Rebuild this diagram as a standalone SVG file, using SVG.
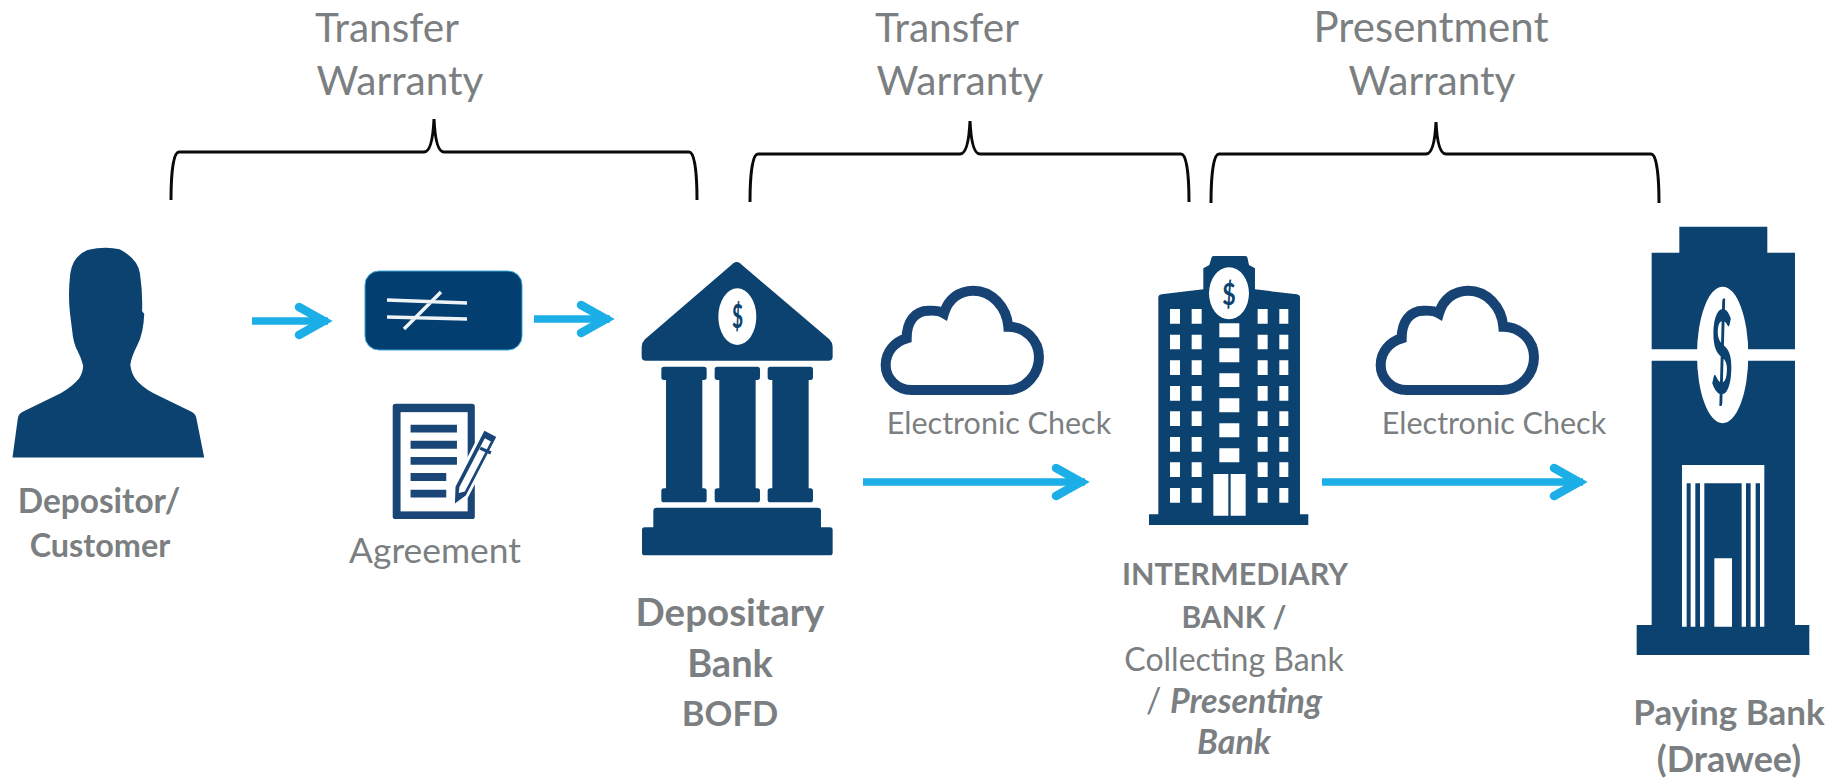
<svg xmlns="http://www.w3.org/2000/svg" width="1834" height="778" viewBox="0 0 1834 778">
<style>
text{font-family:Lato,"Liberation Sans",sans-serif;fill:#7b7f82;text-anchor:middle}
.w{font-size:40.5px}
.e{font-size:30.5px}
.b{font-weight:700}
.d{fill:#0b4270}
.f{fill:#fff}
.brace{fill:none;stroke:#0a0a0a;stroke-width:3}
.conn{fill:none;stroke:#1caee6;stroke-width:7.5}
.cloud{fill:none;stroke:#164374;stroke-width:30}
.dollar{fill:#0b4270;font-weight:700}
</style>
<defs>
<marker id="head" markerUnits="userSpaceOnUse" markerWidth="40" markerHeight="44" refX="34" refY="20" orient="auto" overflow="visible">
<path d="M5,6 L30,20 L5,34" fill="none" stroke="#1caee6" stroke-width="8.5" stroke-linecap="round"/>
</marker>
<g id="col"><path d="M132,380 H252 Q260,380 260,388 V412 Q260,420 252,420 H247 V745 H252 Q260,745 260,753 V779 Q260,787 252,787 H132 Q124,787 124,779 V753 Q124,745 132,745 H138 V420 H132 Q124,420 124,412 V388 Q124,380 132,380 Z"/></g>
<path id="cloudshape" d="M155,360 H440 C500,360 537,310 537,262 C537,210 495,170 445,170 C440,110 395,62 340,62 C300,62 265,85 252,130 C235,120 215,122 205,122 C165,122 140,155 140,205 C105,215 77,245 77,285 C77,325 110,360 155,360 Z"/>
</defs>

<g id="connectors">
<path class="conn" d="M252,321 H328" marker-end="url(#head)"/>
<path class="conn" d="M534,319 H610" marker-end="url(#head)"/>
<path class="conn" d="M863,482 H1085" marker-end="url(#head)"/>
<path class="conn" d="M1322,482 H1583" marker-end="url(#head)"/>
</g>

<g id="brace-1">
<path class="brace" d="M171,200 C171,175 173,152 179,152 H424 C430,152 433,140 434,119 C435,140 438,152 444,152 H689 C695,152 697,175 697,200"/>
<text class="w" x="387" y="42">Transfer</text>
<text class="w" x="400" y="95">Warranty</text>
</g>
<g id="brace-2">
<path class="brace" d="M750,202 C750,177 752,154 758,154 H960 C966,154 969,142 970,121 C971,142 974,154 980,154 H1181 C1187,154 1189,177 1189,202"/>
<text class="w" x="947" y="42">Transfer</text>
<text class="w" x="960" y="95">Warranty</text>
</g>
<g id="brace-3">
<path class="brace" d="M1211,203 C1211,178 1213,154 1219,154 H1426 C1432,154 1435,142 1436,122 C1437,142 1440,154 1446,154 H1651 C1657,154 1659,178 1659,203"/>
<text class="w" style="font-size:42px" x="1431" y="42">Presentment</text>
<text class="w" x="1432" y="95">Warranty</text>
</g>

<g id="depositor">
<g transform="translate(0,230) scale(.357,.333)">
<path class="d" d="M35,683 L50,565 Q52,552 65,545 L170,490 Q205,468 222,445 Q232,430 233,408 Q228,385 218,365 Q205,340 202,300 L196,250 Q190,190 197,130 Q203,80 245,60 Q295,48 335,58 Q385,85 392,130 Q400,190 398,243 L404,252 Q402,310 385,345 Q368,380 365,405 Q368,430 378,445 Q395,470 430,490 L535,545 Q548,552 550,565 L572,683 Z"/>
</g>
<text class="b" style="font-size:33.4px" x="99" y="513">Depositor/</text>
<text class="b" style="font-size:32.4px" x="100" y="557">Customer</text>
</g>

<g id="check">
<rect x="365" y="271" width="157" height="79" rx="14" fill="#033e70" stroke="#3fa6d8" stroke-width="1"/>
<path d="M387,300 L467,303 M387,317 L467,319 M404,329 L441,292" stroke="#eef4f6" stroke-width="3.5" fill="none"/>
</g>

<g id="agreement">
<g transform="translate(0,230) scale(.357,.333)">
<rect x="1100" y="522" width="230" height="346" rx="8" fill="#1a4677"/>
<rect x="1122" y="547" width="188" height="298" class="f"/>
<path fill="#1a4677" d="M1150,585 H1280 V608 H1150 Z M1150,633 H1280 V657 H1150 Z M1150,682 H1280 V705 H1150 Z M1150,730 H1250 V754 H1150 Z M1150,780 H1250 V803 H1150 Z"/>
<path d="M1355,597 L1395,620 L1308,800 L1270,830 L1272,770 Z" fill="#1a4677" stroke="#fff" stroke-width="8"/>
<path d="M1358,625 L1375,635 L1302,785 L1285,790 L1287,772 Z" class="f"/>
<path d="M1345,655 L1375,670" stroke="#1a4677" stroke-width="10"/>
</g>
<text style="font-size:35.4px" x="435" y="563">Agreement</text>
</g>

<g id="depositary-bank">
<g transform="translate(620,240) scale(.3333)" class="d">
<path d="M340,70 Q350,62 360,70 L628,298 Q638,308 638,320 V350 Q638,362 625,362 H78 Q65,362 65,350 V320 Q65,308 75,298 Z"/>
<use href="#col"/>
<use href="#col" x="160"/>
<use href="#col" x="319"/>
<path d="M110,803 H593 Q603,803 603,813 V862 H630 Q638,862 638,870 V938 Q638,946 630,946 H74 Q66,946 66,938 V870 Q66,862 74,862 H100 V813 Q100,803 110,803 Z"/>
<ellipse cx="352" cy="230" rx="57" ry="85" class="f"/>
</g>
<text class="dollar" transform="translate(737.5,328) scale(.6,1)" style="font-size:32px">$</text>
<text class="b" style="font-size:38.5px" x="730" y="626">Depositary</text>
<text class="b" style="font-size:38px" x="730" y="677">Bank</text>
<text class="b" style="font-size:34.5px" x="730" y="726">BOFD</text>
</g>

<g id="cloud-1" transform="translate(860,270) scale(.3333)"><use href="#cloudshape" class="cloud"/></g>
<text class="e" x="999" y="434">Electronic Check</text>

<g id="intermediary-bank">
<g transform="translate(1130,240) scale(.3333)">
<path class="d" d="M57,823 H85 V172 Q85,165 95,163 L220,148 V85 L238,75 L245,52 Q247,48 252,48 H345 Q350,48 352,52 L357,75 L375,85 V148 L500,163 Q510,165 510,172 V823 H535 V855 H57 Z"/>
<ellipse cx="297" cy="160" rx="60" ry="78" class="f"/>
<g class="f">
<path d="M120,207h30v44h-30z M185,207h30v44h-30z M383,207h30v44h-30z M448,207h27v44h-27z
M120,284h30v44h-30z M185,284h30v44h-30z M383,284h30v44h-30z M448,284h27v44h-27z
M120,361h30v44h-30z M185,361h30v44h-30z M383,361h30v44h-30z M448,361h27v44h-27z
M120,438h30v44h-30z M185,438h30v44h-30z M383,438h30v44h-30z M448,438h27v44h-27z
M120,514h30v44h-30z M185,514h30v44h-30z M383,514h30v44h-30z M448,514h27v44h-27z
M120,591h30v44h-30z M185,591h30v44h-30z M383,591h30v44h-30z M448,591h27v44h-27z
M120,667h30v44h-30z M185,667h30v44h-30z M383,667h30v44h-30z M448,667h27v44h-27z
M120,744h30v44h-30z M185,744h30v44h-30z M383,744h30v44h-30z M448,744h27v44h-27z
M268,250h60v42h-60z M268,325h60v42h-60z M268,400h60v41h-60z M268,475h60v42h-60z M268,550h60v42h-60z M268,625h60v42h-60z
M250,702h45v125h-45z M302,702h45v125h-45z"/>
</g>
</g>
<text class="dollar" transform="translate(1229,305) scale(.75,1)" style="font-size:31px">$</text>
<text class="b" style="font-size:30.5px" x="1235" y="585">INTERMEDIARY</text>
<text class="b" style="font-size:30px" x="1234" y="628">BANK /</text>
<text style="font-size:32px" x="1234" y="671">Collecting Bank</text>
<text style="font-size:34px" x="1234" y="713">/ <tspan class="b" font-style="italic">Presenting</tspan></text>
<text class="b" font-style="italic" style="font-size:34px" x="1234" y="754">Bank</text>
</g>

<g id="cloud-2" transform="translate(1355,270) scale(.3333)"><use href="#cloudshape" class="cloud"/></g>
<text class="e" x="1494" y="434">Electronic Check</text>

<g id="paying-bank">
<g transform="translate(1620,210) scale(.3333)">
<path class="d" d="M178,50 H442 V128 H525 V418 H95 V128 H178 Z M95,452 H525 V1245 H568 V1335 H50 V1245 H95 Z"/>
<ellipse cx="308" cy="435" rx="77" ry="205" class="f"/>
<path class="f" d="M186,765 H433 V1250 H420 V820 H407 V1250 H392 V820 H378 V1250 H365 V820 H253 V1250 H240 V820 H226 V1250 H212 V820 H200 V1250 H186 Z M283,1045 H336 V1250 H283 Z"/>
</g>
<text class="dollar" transform="translate(1722,393) scale(.33,1)" style="font-size:114px">$</text>
<text class="b" style="font-size:35px" x="1729" y="725">Paying Bank</text>
<text class="b" style="font-size:36px" x="1729" y="772">(Drawee)</text>
</g>
</svg>
